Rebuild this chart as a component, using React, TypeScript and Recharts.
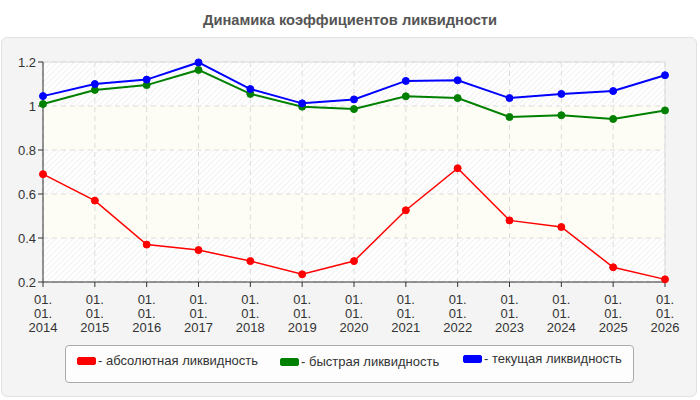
import { LineChart, Line, XAxis, YAxis, CartesianGrid, ReferenceLine } from "recharts";

const dates = [
  "01.01.2014",
  "01.01.2015",
  "01.01.2016",
  "01.01.2017",
  "01.01.2018",
  "01.01.2019",
  "01.01.2020",
  "01.01.2021",
  "01.01.2022",
  "01.01.2023",
  "01.01.2024",
  "01.01.2025",
  "01.01.2026",
];

const absolute = [0.69, 0.57, 0.37, 0.345, 0.295, 0.235, 0.295, 0.526, 0.717, 0.48, 0.45, 0.267, 0.212];
const quick = [1.009, 1.073, 1.095, 1.164, 1.055, 0.997, 0.986, 1.044, 1.036, 0.95, 0.958, 0.941, 0.98];
const current = [1.045, 1.1, 1.12, 1.198, 1.077, 1.012, 1.03, 1.114, 1.117, 1.036, 1.055, 1.068, 1.14];

const yTicks = [0.2, 0.4, 0.6, 0.8, 1, 1.2];

const series = [
  { key: "absolute", name: "- абсолютная ликвидность", color: "#ff0000", width: 1.5 },
  { key: "quick", name: "- быстрая ликвидность", color: "#008000", width: 2 },
  { key: "current", name: "- текущая ликвидность", color: "#0000ff", width: 2 },
];

const data = dates.map((date, i) => ({
  date,
  absolute: absolute[i],
  quick: quick[i],
  current: current[i],
}));

const font = '"Liberation Sans", Arial, sans-serif';

function DateTick({ x, y, payload }: any) {
  const parts = String(payload.value).split(".");
  const lines = [parts[0] + ".", parts[1] + ".", parts[2]];
  return (
    <text x={x} y={y + 4} textAnchor="middle" fill="#333" fontSize={13} fontFamily={font}>
      {lines.map((l, i) => (
        <tspan key={i} x={x} dy={i === 0 ? 11 : 14}>
          {l}
        </tspan>
      ))}
    </text>
  );
}

export default function App() {
  return (
    <div
      style={{
        position: "absolute",
        left: 0,
        top: 0,
        width: 700,
        height: 400,
        background: "#fff",
        fontFamily: font,
        overflow: "hidden",
      }}
    >
      <div
        style={{
          position: "absolute",
          top: 12,
          width: 700,
          textAlign: "center",
          fontSize: 14.7,
          fontWeight: "bold",
          color: "#555",
        }}
      >
        Динамика коэффициентов ликвидности
      </div>
      <div
        style={{
          position: "absolute",
          left: 1,
          top: 37,
          width: 694,
          height: 358,
          background: "#f4f4f4",
          border: "1px solid #e2e2e2",
          borderRadius: 6,
        }}
      />
      <div style={{ position: "absolute", left: 0, top: 0 }}>
        <LineChart width={700} height={400} data={data} margin={{ top: 62, right: 35, bottom: 58, left: 0 }}>
          <defs>
            <pattern id="hatch" width="4" height="4" patternUnits="userSpaceOnUse" patternTransform="rotate(45)">
              <rect width="4" height="4" fill="#ffffff" />
              <line x1="0" y1="0" x2="0" y2="4" stroke="#e8e8e8" strokeWidth={1.2} />
            </pattern>
          </defs>
          <CartesianGrid
            stroke="#dcdcdc"
            strokeDasharray="5 4"
            horizontalFill={["url(#hatch)", "#fdfdf5"]}
            fillOpacity={1}
          />
          <ReferenceLine y={1.2} stroke="#dddddd" />
          <ReferenceLine x={dates[dates.length - 1]} stroke="#dddddd" />
          <XAxis
            dataKey="date"
            height={60}
            interval={0}
            stroke="#333"
            tickSize={5}
            tick={<DateTick />}
          />
          <YAxis
            width={43}
            domain={[0.2, 1.2]}
            ticks={yTicks}
            stroke="#333"
            tickSize={5}
            tick={{ fill: "#333", fontSize: 13, fontFamily: font }}
          />
          {series.map((s) => (
            <Line
              key={s.key}
              dataKey={s.key}
              type="linear"
              stroke={s.color}
              strokeWidth={s.width}
              dot={{ r: 3.5, fill: s.color, stroke: s.color, strokeWidth: 1 }}
              isAnimationActive={false}
            />
          ))}
        </LineChart>
      </div>
      <div
        style={{
          position: "absolute",
          left: 65,
          top: 345,
          width: 569,
          height: 38,
          background: "#fdfdfd",
          border: "1px solid #aaa",
          borderRadius: 4,
          boxSizing: "border-box",
        }}
      >
        {series.map((s, i) => (
          <div
            key={s.key}
            style={{
              position: "absolute",
              left: [11, 214, 397][i],
              top: [7, 8, 5][i],
              display: "flex",
              alignItems: "center",
              fontSize: 13,
              color: "#333",
              whiteSpace: "nowrap",
            }}
          >
            <span
              style={{
                display: "inline-block",
                width: 17,
                height: 6,
                background: s.color,
                borderRadius: 2,
                border: "1px solid " + s.color,
                marginRight: 2,
              }}
            />
            {s.name}
          </div>
        ))}
      </div>
    </div>
  );
}
